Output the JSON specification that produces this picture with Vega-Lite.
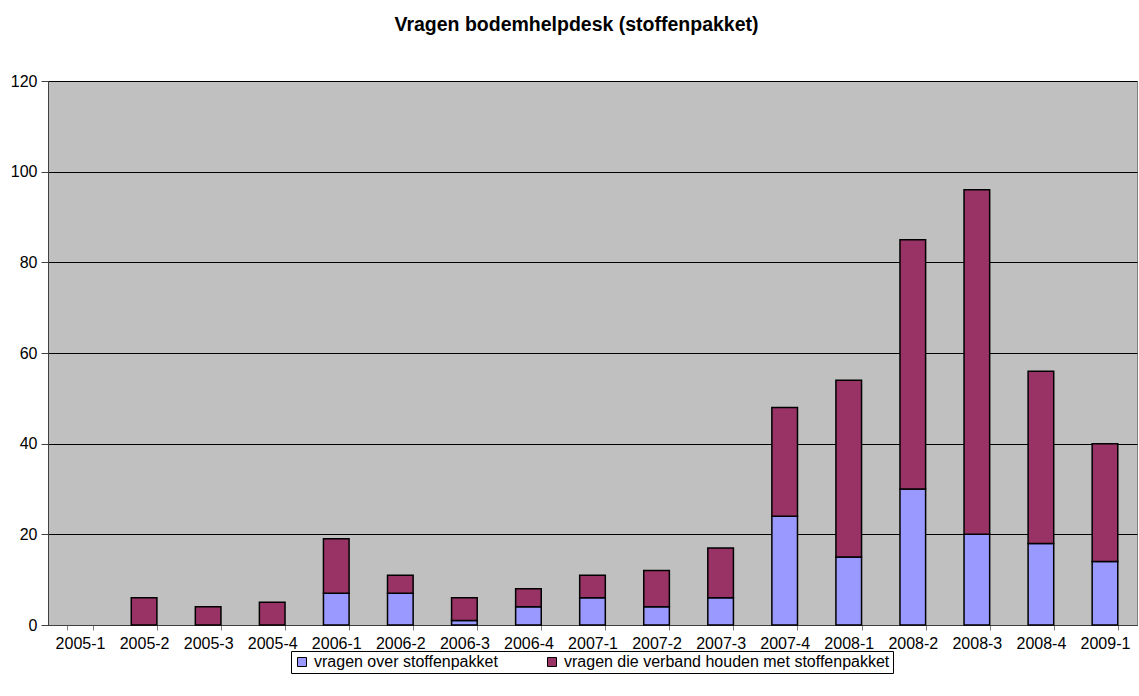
{
  "$schema": "https://vega.github.io/schema/vega-lite/v6.json",
  "autosize": {"type": "none"},
  "padding": {"left": 48, "top": 81, "right": 2, "bottom": 71},
  "width": 1089,
  "height": 544,
  "background": "white",
  "title": {
    "text": "Vragen bodemhelpdesk (stoffenpakket)",
    "font": "Liberation Sans",
    "fontSize": 19.5,
    "fontWeight": "bold",
    "color": "black",
    "anchor": "middle",
    "dx": -16,
    "offset": 38
  },
  "config": {
    "font": "Liberation Sans",
    "view": {"fill": "#C0C0C0", "stroke": "#808080", "strokeWidth": 1}
  },
  "data": {
    "values": [
      {"kwartaal": "2005-1", "reeks": "vragen over stoffenpakket", "aantal": 0},
      {"kwartaal": "2005-2", "reeks": "vragen over stoffenpakket", "aantal": 0},
      {"kwartaal": "2005-3", "reeks": "vragen over stoffenpakket", "aantal": 0},
      {"kwartaal": "2005-4", "reeks": "vragen over stoffenpakket", "aantal": 0},
      {"kwartaal": "2006-1", "reeks": "vragen over stoffenpakket", "aantal": 7},
      {"kwartaal": "2006-2", "reeks": "vragen over stoffenpakket", "aantal": 7},
      {"kwartaal": "2006-3", "reeks": "vragen over stoffenpakket", "aantal": 1},
      {"kwartaal": "2006-4", "reeks": "vragen over stoffenpakket", "aantal": 4},
      {"kwartaal": "2007-1", "reeks": "vragen over stoffenpakket", "aantal": 6},
      {"kwartaal": "2007-2", "reeks": "vragen over stoffenpakket", "aantal": 4},
      {"kwartaal": "2007-3", "reeks": "vragen over stoffenpakket", "aantal": 6},
      {"kwartaal": "2007-4", "reeks": "vragen over stoffenpakket", "aantal": 24},
      {"kwartaal": "2008-1", "reeks": "vragen over stoffenpakket", "aantal": 15},
      {"kwartaal": "2008-2", "reeks": "vragen over stoffenpakket", "aantal": 30},
      {"kwartaal": "2008-3", "reeks": "vragen over stoffenpakket", "aantal": 20},
      {"kwartaal": "2008-4", "reeks": "vragen over stoffenpakket", "aantal": 18},
      {"kwartaal": "2009-1", "reeks": "vragen over stoffenpakket", "aantal": 14},
      {"kwartaal": "2005-1", "reeks": "vragen die verband houden met stoffenpakket", "aantal": 0},
      {"kwartaal": "2005-2", "reeks": "vragen die verband houden met stoffenpakket", "aantal": 6},
      {"kwartaal": "2005-3", "reeks": "vragen die verband houden met stoffenpakket", "aantal": 4},
      {"kwartaal": "2005-4", "reeks": "vragen die verband houden met stoffenpakket", "aantal": 5},
      {"kwartaal": "2006-1", "reeks": "vragen die verband houden met stoffenpakket", "aantal": 12},
      {"kwartaal": "2006-2", "reeks": "vragen die verband houden met stoffenpakket", "aantal": 4},
      {"kwartaal": "2006-3", "reeks": "vragen die verband houden met stoffenpakket", "aantal": 5},
      {"kwartaal": "2006-4", "reeks": "vragen die verband houden met stoffenpakket", "aantal": 4},
      {"kwartaal": "2007-1", "reeks": "vragen die verband houden met stoffenpakket", "aantal": 5},
      {"kwartaal": "2007-2", "reeks": "vragen die verband houden met stoffenpakket", "aantal": 8},
      {"kwartaal": "2007-3", "reeks": "vragen die verband houden met stoffenpakket", "aantal": 11},
      {"kwartaal": "2007-4", "reeks": "vragen die verband houden met stoffenpakket", "aantal": 24},
      {"kwartaal": "2008-1", "reeks": "vragen die verband houden met stoffenpakket", "aantal": 39},
      {"kwartaal": "2008-2", "reeks": "vragen die verband houden met stoffenpakket", "aantal": 55},
      {"kwartaal": "2008-3", "reeks": "vragen die verband houden met stoffenpakket", "aantal": 76},
      {"kwartaal": "2008-4", "reeks": "vragen die verband houden met stoffenpakket", "aantal": 38},
      {"kwartaal": "2009-1", "reeks": "vragen die verband houden met stoffenpakket", "aantal": 26}
    ]
  },
  "transform": [
    {"filter": "datum.aantal > 0"},
    {"calculate": "datum.reeks === 'vragen over stoffenpakket' ? 0 : 1", "as": "volgorde"}
  ],
  "mark": {"type": "bar", "stroke": "black", "strokeWidth": 1.5},
  "encoding": {
    "x": {
      "field": "kwartaal",
      "type": "ordinal",
      "scale": {
        "domain": ["2005-1", "2005-2", "2005-3", "2005-4", "2006-1", "2006-2", "2006-3", "2006-4", "2007-1", "2007-2", "2007-3", "2007-4", "2008-1", "2008-2", "2008-3", "2008-4", "2009-1"],
        "paddingInner": 0.6,
        "paddingOuter": 0.3
      },
      "axis": {
        "title": null,
        "labelAngle": 0,
        "labelFontSize": 16,
        "labelColor": "black",
        "labelPadding": 5,
        "tickBand": "extent",
        "tickSize": 5,
        "tickColor": "#808080",
        "domainColor": "#404040",
        "grid": false
      }
    },
    "y": {
      "field": "aantal",
      "type": "quantitative",
      "stack": "zero",
      "scale": {"domain": [0, 120], "nice": false},
      "axis": {
        "title": null,
        "values": [0, 20, 40, 60, 80, 100, 120],
        "labelFontSize": 16,
        "labelColor": "black",
        "labelPadding": 4,
        "tickSize": 7,
        "tickColor": "#404040",
        "domainColor": "#404040",
        "gridColor": "black",
        "gridOpacity": 1,
        "gridWidth": 1
      }
    },
    "color": {
      "field": "reeks",
      "type": "nominal",
      "scale": {
        "domain": ["vragen over stoffenpakket", "vragen die verband houden met stoffenpakket"],
        "range": ["#9999FF", "#993366"]
      },
      "legend": {
        "title": null,
        "orient": "none",
        "direction": "horizontal",
        "legendX": 243,
        "legendY": 570,
        "strokeColor": "black",
        "padding": 3,
        "symbolType": "square",
        "symbolSize": 81,
        "symbolStrokeColor": "black",
        "symbolStrokeWidth": 1,
        "symbolOpacity": 1,
        "labelFontSize": 16,
        "labelLimit": 0,
        "labelColor": "black",
        "labelOffset": 4,
        "columnPadding": 46
      }
    },
    "order": {"field": "volgorde", "type": "quantitative"}
  }
}
